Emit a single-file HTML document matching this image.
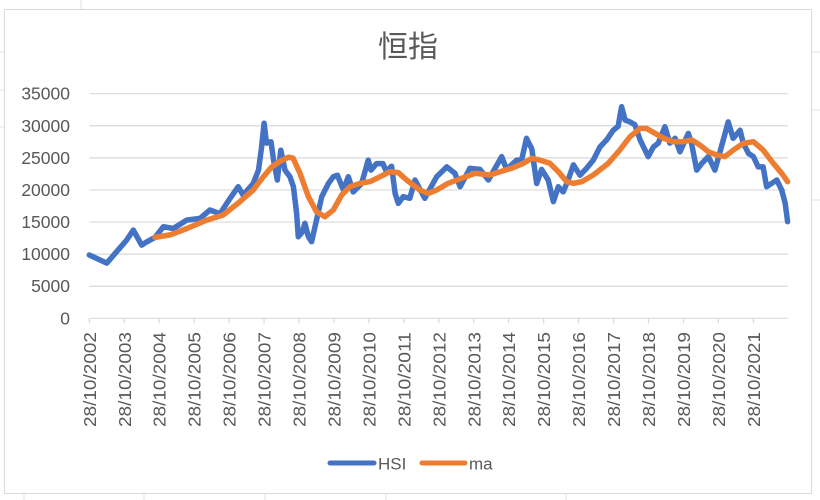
<!DOCTYPE html>
<html><head><meta charset="utf-8"><style>
body{margin:0;background:#fff;}
svg{display:block;font-family:"Liberation Sans","Noto Sans CJK SC",sans-serif;}
</style></head><body>
<svg id="c" width="820" height="500" xmlns="http://www.w3.org/2000/svg">
<g stroke="#e3e3e3" stroke-width="1">
<line x1="0" y1="52" x2="4" y2="52"/><line x1="0" y1="90" x2="4" y2="90"/><line x1="0" y1="127" x2="4" y2="127"/>
<line x1="812" y1="52" x2="820" y2="52"/><line x1="812" y1="110" x2="820" y2="110"/><line x1="812" y1="200" x2="820" y2="200"/>
<line x1="81" y1="0" x2="81" y2="9"/><line x1="24" y1="494" x2="24" y2="500"/><line x1="144" y1="494" x2="144" y2="500"/><line x1="265" y1="494" x2="265" y2="500"/><line x1="386" y1="494" x2="386" y2="500"/><line x1="566" y1="494" x2="566" y2="500"/>
</g>
<rect x="4.5" y="9.5" width="807" height="484" fill="#fff" stroke="#d9d9d9"/>
<text x="408" y="57" text-anchor="middle" font-size="30" fill="#595959">恒指</text>
<g id="grid"></g><g id="yl"></g><g id="xl"></g><g id="series"></g>
<g>
<line x1="330" y1="463" x2="374" y2="463" stroke="#4472c4" stroke-width="5" stroke-linecap="round"/>
<text x="378" y="469.5" font-size="17" fill="#595959">HSI</text>
<line x1="422" y1="463" x2="465" y2="463" stroke="#ed7d31" stroke-width="5" stroke-linecap="round"/>
<text x="469" y="469.5" font-size="17" fill="#595959">ma</text>
</g>
</svg>
<script>
const xTickLabels=["28/10/2002","28/10/2003","28/10/2004","28/10/2005","28/10/2006","28/10/2007","28/10/2008","28/10/2009","28/10/2010","28/10/2011","28/10/2012","28/10/2013","28/10/2014","28/10/2015","28/10/2016","28/10/2017","28/10/2018","28/10/2019","28/10/2020","28/10/2021"];
const yTicks=[0,5000,10000,15000,20000,25000,30000,35000];
const hsiT=[0,0.5,0.78,1.07,1.26,1.5,1.64,1.88,2.12,2.4,2.79,3.17,3.45,3.74,4.03,4.26,4.4,4.69,4.84,4.93,5.0,5.07,5.2,5.27,5.38,5.48,5.6,5.74,5.84,5.93,5.98,6.1,6.17,6.27,6.36,6.5,6.65,6.84,6.98,7.1,7.27,7.41,7.55,7.79,7.98,8.06,8.22,8.4,8.5,8.65,8.75,8.84,8.98,9.17,9.32,9.6,9.94,10.23,10.46,10.61,10.89,11.18,11.42,11.8,11.94,12.23,12.37,12.51,12.66,12.8,12.94,13.13,13.28,13.42,13.56,13.7,13.85,14.04,14.23,14.42,14.61,14.8,14.99,15.13,15.23,15.33,15.47,15.61,15.76,15.99,16.14,16.28,16.47,16.61,16.76,16.9,17.14,17.23,17.38,17.52,17.71,17.9,18.1,18.28,18.42,18.62,18.71,18.86,19.0,19.14,19.28,19.38,19.52,19.67,19.81,19.91,19.98];
const hsiV=[9860,8600,10380,12200,13750,11400,11900,12600,14270,14000,15300,15570,16870,16300,18700,20500,19200,21000,23100,26700,30400,27300,27500,24700,21550,26200,23100,22060,20500,16400,12700,13500,14800,12700,11930,15300,18950,21000,22060,22300,20000,22060,19700,21000,24650,23100,24100,24100,22840,23700,19470,17900,18950,18700,21550,18700,22060,23600,22600,20500,23370,23200,21550,25200,23200,24650,24650,28050,26400,21000,23200,21550,18170,20500,19700,21550,23900,22300,23370,24650,26700,27800,29300,29900,32970,30900,30600,30150,27800,25200,26700,27300,29850,27300,28050,25950,28820,27300,23100,24100,25200,23100,27000,30600,28050,29300,27300,25700,25200,23600,23600,20500,21000,21550,20000,17900,15050];
const maT=[1.88,2.31,2.79,3.36,3.83,4.31,4.69,4.98,5.22,5.44,5.7,5.83,6.03,6.27,6.5,6.74,6.98,7.22,7.46,7.75,8.04,8.32,8.6,8.84,9.08,9.46,9.7,9.94,10.27,10.65,11.04,11.46,11.75,12.08,12.42,12.66,12.89,13.18,13.42,13.66,13.85,14.09,14.42,14.85,15.18,15.47,15.76,15.94,16.19,16.43,16.71,16.99,17.23,17.47,17.71,17.95,18.19,18.43,18.71,19.0,19.28,19.57,19.81,19.98];
const maV=[12600,13000,14000,15300,16100,18170,20000,22060,23600,24400,25100,24950,22600,18950,16600,15830,16870,19200,20500,21030,21300,22060,22840,22700,21550,20000,19470,20000,21030,21810,22600,22330,22840,23370,24150,24930,24650,24150,22840,21280,21030,21280,22330,24150,26220,28300,29600,29600,28820,28050,27520,27520,27800,27000,25950,25460,25200,26220,27260,27520,26220,24150,22600,21280];
const NS="http://www.w3.org/2000/svg";
const X0=89.3,XS=34.95,Y0=318.3,YPX=224.6/35000,XEND=787.7;
function xs(t){return X0+t*XS;}
function ys(v){return Y0-v*YPX;}
function mk(tag,attrs,parent){const e=document.createElementNS(NS,tag);for(const k in attrs)e.setAttribute(k,attrs[k]);parent.appendChild(e);return e;}
const grid=document.getElementById('grid'),yl=document.getElementById('yl'),xl=document.getElementById('xl'),ser=document.getElementById('series');



yTicks.forEach(v=>{
 const l=mk('line',{x1:X0,x2:XEND,y1:ys(v),y2:ys(v),stroke:'#d9d9d9','stroke-width':1.2},grid);
 
 
 const t=mk('text',{x:70,y:ys(v)+6,'text-anchor':'end','font-size':17.5,fill:'#595959'},yl);
 t.textContent=v;
 
 
});
xTickLabels.forEach((s,i)=>{
 const x=xs(i);
 const tk=mk('line',{x1:x,x2:x,y1:Y0,y2:Y0+5,stroke:'#d9d9d9','stroke-width':1.2},xl);
 
 
 const t=mk('text',{x:x+6.5,y:332,'text-anchor':'end','font-size':17.5,fill:'#595959',textLength:95,lengthAdjust:'spacingAndGlyphs',transform:'rotate(-90 '+(x+6.5)+' 332)'},xl);
 t.textContent=s;
 
 
});
function path(T,V,color,name){
 const d=T.map((t,i)=>(i?'L':'M')+xs(t).toFixed(1)+','+ys(V[i]).toFixed(1)).join('');
 const p=mk('path',{d:d,fill:'none',stroke:color,'stroke-width':5.5,'stroke-linejoin':'round','stroke-linecap':'round'},ser);
 
 
}
path(hsiT,hsiV,'#4472c4','hsi-line');
path(maT,maV,'#ed7d31','ma-line');
</script>
</body></html>
